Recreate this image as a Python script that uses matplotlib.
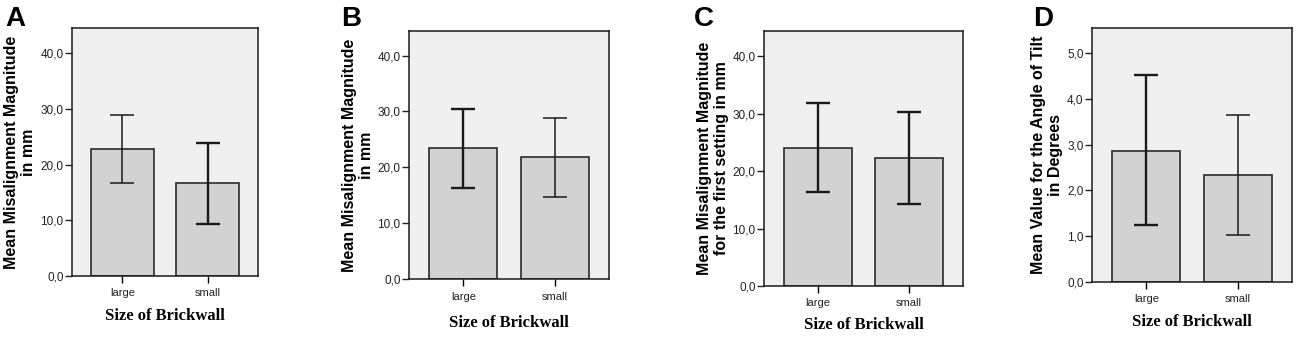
import matplotlib
matplotlib.use("Agg")
import matplotlib.pyplot as plt
from matplotlib.ticker import FuncFormatter

# data (means with error bars)
categories = ["large", "small"]

meansA = [22.8, 16.6]
errLowA = [16.7, 9.3]
errHighA = [28.8, 23.9]

meansB = [23.5, 21.8]
errLowB = [16.25, 14.6]
errHighB = [30.5, 28.9]

meansC = [24.1, 22.3]
errLowC = [16.3, 14.35]
errHighC = [31.8, 30.3]

meansD = [2.87, 2.34]
errLowD = [1.24, 1.03]
errHighD = [4.53, 3.64]

yticksMm = [0, 10, 20, 30, 40]
yticksDeg = [0, 1, 2, 3, 4, 5]

ylabels = [
  "Mean Misalignment Magnitude\nin mm",
  "Mean Misalignment Magnitude\nin mm",
  "Mean Misalignment Magnitude\nfor the first setting in mm",
  "Mean Value for the Angle of Tilt\nin Degrees",
]
letters = ["A", "B", "C", "D"]
xlabel = "Size of Brickwall"

W, H = 1300, 338

# layout in pixels: axes (left, top, right, bottom), ylabel centre x, letter x, xlabel y
panels = [
  dict(box=(72, 28, 258, 276), ylx=20, lx=5, xly=316, ylim=44.5,
       means=meansA, lo=errLowA, hi=errHighA, ticks=yticksMm, elw=[1.1, 1.7]),
  dict(box=(409, 31, 609, 279), ylx=358, lx=341, xly=323, ylim=44.4,
       means=meansB, lo=errLowB, hi=errHighB, ticks=yticksMm, elw=[1.7, 1.1]),
  dict(box=(764, 31, 963, 286), ylx=713, lx=694, xly=325, ylim=44.4,
       means=meansC, lo=errLowC, hi=errHighC, ticks=yticksMm, elw=[1.7, 1.7]),
  dict(box=(1092, 28, 1292, 282), ylx=1047, lx=1033, xly=322, ylim=5.55,
       means=meansD, lo=errLowD, hi=errHighD, ticks=yticksDeg, elw=[1.7, 1.1]),
]

plt.rcParams['font.family'] = ['Liberation Sans', 'DejaVu Sans']

fig = plt.figure(figsize=(W / 100, H / 100), dpi=100)
fig.patch.set_facecolor("white")

commaFmt = FuncFormatter(lambda v, p: ("%.1f" % v).replace(".", ","))

for i, p in enumerate(panels):
  l, t, r, b = p["box"]
  ax = fig.add_axes([l / W, 1 - b / H, (r - l) / W, (b - t) / H])
  ax.set_facecolor("#f0f0f0")

  x = list(range(len(categories)))
  ax.bar(x, p["means"], width=0.74, color="#d2d2d2", edgecolor="#2a2a2a",
         linewidth=1.2, zorder=2)
  for j in x:
    m = p["means"][j]
    ax.errorbar(j, m, yerr=[[m - p["lo"][j]], [p["hi"][j] - m]], fmt="none",
                ecolor="#1a1a1a", elinewidth=p["elw"][j], capsize=8.3,
                capthick=p["elw"][j], zorder=3)

  ax.set_xlim(-0.594, 1.594)
  ax.set_ylim(0, p["ylim"])
  ax.set_xticks(x)
  ax.set_xticklabels(categories, fontsize=8, color="#222222")
  ax.set_yticks(p["ticks"])
  ax.yaxis.set_major_formatter(commaFmt)
  ax.tick_params(axis="y", labelsize=8.5, colors="#222222", length=5, width=1,
                 direction="out", pad=1)
  ax.tick_params(axis="x", length=5, width=1, direction="out", pad=4)
  for s in ax.spines.values():
    s.set_linewidth(1.1)
    s.set_color("#1a1a1a")

  cx = (l + r) / 2
  fig.text(cx / W, 1 - p["xly"] / H, xlabel, ha="center", va="center",
           family=["Liberation Serif"], fontweight="bold", fontsize=12)
  fig.text(p["ylx"] / W, 1 - ((t + b) / 2) / H, ylabels[i], ha="center",
           va="center", rotation=90, fontweight="bold", fontsize=11.5,
           linespacing=1.15)
  fig.text(p["lx"] / W, 1 - 6 / H, letters[i], ha="left", va="top",
           fontweight="bold", fontsize=20)

fig.savefig("out.png", dpi=100)
